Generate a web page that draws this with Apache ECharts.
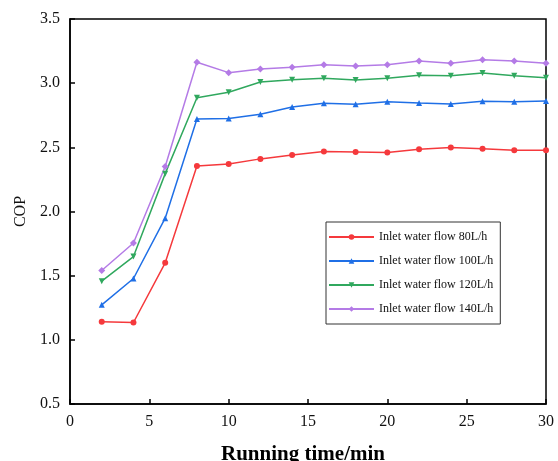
<!DOCTYPE html>
<html>
<head>
<meta charset="utf-8">
<script src="https://cdn.jsdelivr.net/npm/echarts@6/dist/echarts.min.js"></script>
<style>
  html, body { margin: 0; padding: 0; background: #fff; }
  #chart { width: 558px; height: 461px; }
</style>
</head>
<body>
<div id="chart"></div>
<script>
// Running time (min) at each measurement
const times = [2, 4, 6, 8, 10, 12, 14, 16, 18, 20, 22, 24, 26, 28, 30];

// COP for each inlet water flow rate
const cop80  = [1.14, 1.135, 1.60, 2.355, 2.37, 2.41, 2.44, 2.467, 2.464, 2.46, 2.485, 2.498, 2.488, 2.478, 2.478];
const cop100 = [1.273, 1.478, 1.948, 2.721, 2.724, 2.758, 2.815, 2.843, 2.835, 2.856, 2.846, 2.838, 2.859, 2.856, 2.861];
const cop120 = [1.457, 1.649, 2.295, 2.887, 2.929, 3.009, 3.027, 3.038, 3.025, 3.038, 3.061, 3.058, 3.079, 3.058, 3.043];
const cop140 = [1.54, 1.755, 2.35, 3.163, 3.082, 3.111, 3.124, 3.144, 3.134, 3.144, 3.173, 3.155, 3.183, 3.173, 3.155];

const seriesNames = [
  'Inlet water flow 80L/h',
  'Inlet water flow 100L/h',
  'Inlet water flow 120L/h',
  'Inlet water flow 140L/h'
];
const seriesData = [cop80, cop100, cop120, cop140];
const colors = ['#f5393c', '#1f6fe6', '#30a85e', '#b47be6'];
const symbols = ['circle', 'triangle', 'path://M0,0 L10,0 L5,10 Z', 'diamond'];

const serif = '"Liberation Serif", "Times New Roman", serif';

const chart = echarts.init(document.getElementById('chart'), null, { renderer: 'canvas' });

const axisCommon = {
  axisLine: { show: true, onZero: false, lineStyle: { color: '#000', width: 1.5 } },
  axisTick: { show: true, inside: true, length: 5, lineStyle: { color: '#000', width: 1.5 } },
  splitLine: { show: false },
  axisLabel: { color: '#111', fontFamily: serif, fontSize: 16 }
};

chart.setOption({
  animation: false,
  backgroundColor: '#fff',
  grid: {
    left: 70, right: 12, top: 19, bottom: 57,
    outerBoundsMode: 'none',
    containLabel: false,
    show: true, borderColor: '#000', borderWidth: 1.5
  },
  xAxis: Object.assign({}, axisCommon, {
    type: 'value',
    min: 0, max: 30, interval: 5,
    name: 'Running time/min',
    nameLocation: 'middle',
    nameGap: 40,
    nameTextStyle: { fontFamily: serif, fontSize: 21, fontWeight: 'bold', color: '#000', padding: [0, 10, 0, 0] },
    axisLabel: Object.assign({}, axisCommon.axisLabel, { margin: 10 })
  }),
  yAxis: Object.assign({}, axisCommon, {
    type: 'value',
    min: 0.5, max: 3.5, interval: 0.5,
    name: 'COP',
    nameLocation: 'middle',
    nameGap: 37,
    nameTextStyle: { fontFamily: serif, fontSize: 16, color: '#111' },
    axisLabel: Object.assign({}, axisCommon.axisLabel, {
      margin: 10,
      formatter: v => v.toFixed(1)
    })
  }),
  legend: {
    orient: 'vertical',
    left: 326, top: 222,
    padding: [9, 7, 9, 2],
    itemWidth: 45, itemHeight: 7, itemGap: 12,
    borderColor: '#333', borderWidth: 1,
    textStyle: { fontFamily: serif, fontSize: 12, color: '#111' },
    data: seriesNames
  },
  series: seriesNames.map((name, i) => ({
    name: name,
    type: 'line',
    data: times.map((t, j) => [t, seriesData[i][j]]),
    symbol: symbols[i],
    symbolSize: i === 3 ? 7 : 6,
    showAllSymbol: true,
    lineStyle: { color: colors[i], width: 1.5 },
    itemStyle: { color: colors[i] }
  }))
});
</script>
</body>
</html>
